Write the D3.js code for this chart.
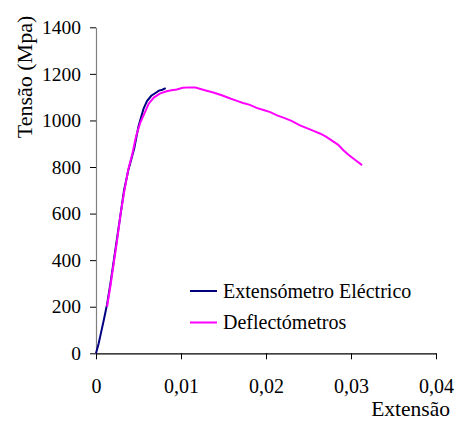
<!DOCTYPE html>
<html>
<head>
<script src="https://cdn.jsdelivr.net/npm/d3@7"></script>
</head>
<body style="margin:0">
<svg id="chart" width="455" height="421" font-family="Liberation Serif"></svg>
<script>
// Extensómetro eléctrico: [extensão, tensão]
const extensometro = [
    [0, 0], [0.0003, 40], [0.0006, 90], [0.0009, 140], [0.0013, 210],
    [0.0017, 300], [0.0021, 400], [0.0025, 500], [0.0029, 600], [0.0033, 700],
    [0.0038, 786], [0.0042, 840], [0.0045, 880], [0.0050, 975], [0.0056, 1051],
    [0.0060, 1083], [0.0065, 1106], [0.0070, 1118], [0.0074, 1128], [0.0078, 1132],
    [0.0082, 1139]
];

// Deflectómetros: [extensão, tensão]
const deflectometros = [
    [0.0013, 200], [0.0017, 290], [0.0021, 390], [0.0025, 490], [0.0029, 600],
    [0.0033, 690], [0.0038, 790], [0.0043, 860], [0.0047, 930], [0.0052, 990],
    [0.0057, 1030], [0.0062, 1072], [0.0068, 1098], [0.0075, 1115], [0.0083, 1125],
    [0.0089, 1130], [0.0095, 1133], [0.0102, 1140], [0.0110, 1142], [0.0117, 1141],
    [0.0128, 1130], [0.0138, 1120], [0.0148, 1108], [0.0158, 1094], [0.0165, 1085],
    [0.0173, 1075], [0.0181, 1067], [0.0189, 1054], [0.0197, 1045], [0.0205, 1036],
    [0.0213, 1022], [0.0222, 1010], [0.0230, 998], [0.0240, 979], [0.0248, 967],
    [0.0256, 955], [0.0264, 943], [0.0271, 929], [0.0278, 912], [0.0285, 895],
    [0.0291, 872], [0.0297, 853], [0.0305, 830], [0.0313, 808]
];

const xTicks = [0, 0.01, 0.02, 0.03, 0.04];
const yTicks = [0, 200, 400, 600, 800, 1000, 1200, 1400];
const seriesNames = ['Extensómetro Eléctrico', 'Deflectómetros'];

const width = 455, height = 421;
const margin = {top: 27.3, left: 96, right: 19, bottom: 67.7};
const innerW = width - margin.left - margin.right;
const innerH = height - margin.top - margin.bottom;
const fontFam = 'Liberation Serif';

const svg = d3.select('#chart');

const g = svg.append('g')
    .attr('transform', `translate(${margin.left},${margin.top})`);

const x = d3.scaleLinear().domain([0, 0.04]).range([0, innerW]);
const y = d3.scaleLinear().domain([0, 1400]).range([innerH, 0]);

const fmtX = d => d === 0 ? '0' : d3.format('.2f')(d).replace('.', ',');

// y axis (grey line)
const yAxis = g.append('g')
    .call(d3.axisLeft(y).tickValues(yTicks).tickFormat(d3.format('d'))
        .tickSize(6).tickSizeOuter(0).tickPadding(9))
    .attr('font-family', fontFam)
    .attr('font-size', 19.5);
yAxis.select('.domain').attr('stroke', '#808080').attr('stroke-width', 1.2);
yAxis.selectAll('.tick line').attr('stroke', '#000');

// x axis
const xAxis = g.append('g')
    .attr('transform', `translate(0,${innerH})`)
    .call(d3.axisBottom(x).tickValues(xTicks).tickFormat(fmtX)
        .tickSize(6).tickSizeOuter(0).tickPadding(20))
    .attr('font-family', fontFam)
    .attr('font-size', 20);
xAxis.select('.domain').attr('stroke', '#000').attr('stroke-width', 1.2);

// axis titles
svg.append('text')
    .attr('transform', `translate(32,77) rotate(-90)`)
    .attr('text-anchor', 'middle')
    .attr('font-family', fontFam)
    .attr('font-size', 22)
    .text('Tensão (Mpa)');

svg.append('text')
    .attr('x', 450)
    .attr('y', 416)
    .attr('text-anchor', 'end')
    .attr('font-family', fontFam)
    .attr('font-size', 21.5)
    .text('Extensão');

// curves
const line = d3.line()
    .x(d => x(d[0]))
    .y(d => y(d[1]));

const colors = ['#000080', '#ff00ff'];

g.append('path')
    .datum(extensometro)
    .attr('fill', 'none')
    .attr('stroke', colors[0])
    .attr('stroke-width', 2)
    .attr('d', line);

g.append('path')
    .datum(deflectometros)
    .attr('fill', 'none')
    .attr('stroke', colors[1])
    .attr('stroke-width', 2)
    .attr('d', line);

// legend
const legend = svg.append('g')
    .attr('transform', 'translate(190,291)');

seriesNames.forEach((name, i) => {
    const row = legend.append('g').attr('transform', `translate(0,${i * 31.5})`);
    row.append('line')
        .attr('x1', 0).attr('x2', 27)
        .attr('stroke', colors[i])
        .attr('stroke-width', 2);
    row.append('text')
        .attr('x', 33)
        .attr('y', 0)
        .attr('dy', '0.33em')
        .attr('font-family', fontFam)
        .attr('font-size', 20)
        .text(name);
});
</script>
</body>
</html>
